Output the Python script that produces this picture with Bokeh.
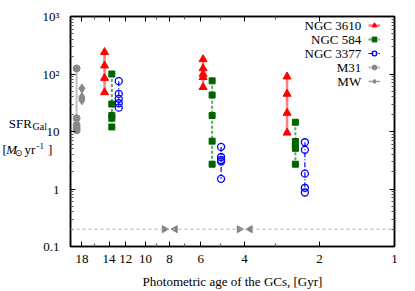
import math
from bokeh.plotting import figure
from bokeh.layouts import column
from bokeh.models import (Range1d, FixedTicker, LogAxis, Label, Legend, LegendItem,
                          Span, CustomJSTickFormatter)
from bokeh.core.properties import value
from bokeh.embed import file_html
from bokeh.resources import INLINE

# ---------------- data ----------------
m31_age = 18.9
m31_sfr = [125, 17, 13, 11.5, 10.5]
mw_age = 18.0
mw_sfr = [56, 40, 37, 35]

ngc3610_age = [14.6, 5.87, 2.70]
ngc3610_sfr = [[240, 140, 85, 48], [180, 125, 100, 88, 59], [90, 45, 21, 9.5]]
ngc584_age = [13.65, 5.4, 2.50]
ngc584_sfr = [[100, 30, 19, 17, 12], [76, 43, 19, 6.8, 2.7], [14.5, 6.7, 5.7, 5.1, 2.7]]
ngc3377_age = [12.8, 4.97, 2.29]
ngc3377_sfr = [[75, 45, 37, 31, 26], [5.4, 3.6, 3.2, 3.0, 1.5], [6.5, 4.8, 1.85, 1.05, 0.87]]

ref_sfr = 0.2
gap_start = [8.4, 4.2]
gap_end = [7.6, 3.8]

x_ticks = [18, 14, 12, 10, 8, 6, 4, 2, 1]
x_minor = [16, 9, 7, 5, 3]
y_ticks = [0.1, 1, 10, 100, 1000]
y_tick_labels = ["0.1", "1", "10", "10²", "10³"]
y_minor = [k * 10.0 ** d for d in range(-1, 3) for k in range(2, 10)]

legend_names = ["NGC 3610", "NGC 584", "NGC 3377", "M31", "MW"]
x_title = "Photometric age of the GCs, [Gyr]"

FONT = "Liberation Serif"
W, H = 415, 291

p = figure(width=W, height=H, x_axis_type="log", y_axis_type="log",
           x_range=Range1d(20, 1), y_range=Range1d(0.1, 1000),
           output_backend="svg", toolbar_location=None,
           min_border_left=70, min_border_right=21, min_border_top=16, min_border_bottom=44)
p.grid.visible = False
p.outline_line_color = "black"
p.outline_line_width = 1.5
p.border_fill_alpha = 0

bottom = p.below[0]
left = p.left[0]
bottom.ticker = FixedTicker(ticks=x_ticks, minor_ticks=x_minor)
left.ticker = FixedTicker(ticks=y_ticks, minor_ticks=y_minor)
left.major_label_overrides = {t: l for t, l in zip(y_ticks, y_tick_labels)}
bottom.major_label_overrides = {t: str(t) for t in x_ticks}

top = LogAxis(ticker=FixedTicker(ticks=x_ticks, minor_ticks=x_minor),
              formatter=CustomJSTickFormatter(code="return ''"))
right = LogAxis(ticker=FixedTicker(ticks=y_ticks, minor_ticks=y_minor),
                formatter=CustomJSTickFormatter(code="return ''"))
for ax in (top, right):
    ax.major_label_text_font_size = "0px"
    ax.major_label_standoff = 0
p.add_layout(top, "above")
p.add_layout(right, "right")

for ax in (bottom, left, top, right):
    ax.axis_line_color = "black"
    ax.axis_line_width = 1.5
    ax.major_tick_in = 5
    ax.major_tick_out = 0
    ax.minor_tick_in = 3
    ax.minor_tick_out = 0
    ax.major_tick_line_color = "black"
    ax.minor_tick_line_color = "#555555"
    ax.major_label_text_font = FONT
    ax.major_label_text_color = "black"

bottom.major_label_text_font_size = "13px"
bottom.major_label_standoff = 8
bottom.axis_label = x_title
bottom.axis_label_text_font = FONT
bottom.axis_label_text_font_size = "13px"
bottom.axis_label_text_font_style = "normal"
bottom.axis_label_text_color = "black"
bottom.axis_label_standoff = 8
left.major_label_text_font_size = "13px"
left.major_label_standoff = 11

# reference line and gap markers
p.add_layout(Span(location=ref_sfr, dimension="width", line_color="#b0b0b0",
                  line_dash="3 3", line_width=1))
p.scatter(gap_start, [ref_sfr] * len(gap_start), marker="triangle", angle=-math.pi / 2,
          size=7, color="#808080")
p.scatter(gap_end, [ref_sfr] * len(gap_end), marker="triangle", angle=math.pi / 2,
          size=7, color="#808080")


def group(ages, sfrs, color, marker, size, line_kw, fill=True):
    first = None
    for a, s in zip(ages, sfrs):
        xs = [a] * len(s)
        lr = p.line(xs, s, **line_kw)
        if fill:
            sr = p.scatter(xs, s, marker=marker, size=size, color=color)
        else:
            sr = p.scatter(xs, s, marker=marker, size=size, line_color=color,
                           fill_color=None, line_width=1.3)
        if first is None:
            first = [lr, sr]
    return first


r1 = group(ngc3610_age, ngc3610_sfr, "#ff0000", "triangle", 8,
           dict(line_color="#ff0000", line_alpha=0.5, line_width=2.5))
r2 = group(ngc584_age, ngc584_sfr, "#006400", "square", 6,
           dict(line_color="#006400", line_alpha=0.6, line_width=2, line_dash="3 2"))
r3 = group(ngc3377_age, ngc3377_sfr, "#0000ff", "circle", 7,
           dict(line_color="#0000ff", line_width=1.2, line_dash="5 2 1 2"), fill=False)
r4 = group([m31_age], [m31_sfr], "#888888", "circle", 7,
           dict(line_color="#c0c0c0", line_width=2))
r5 = group([mw_age], [mw_sfr], "#888888", "diamond", 9,
           dict(line_color="#999999", line_width=1.5))

legend = Legend(items=[LegendItem(label=" ", renderers=r) for r in (r1, r2, r3, r4, r5)],
                location=(298, 158), glyph_width=12, glyph_height=14, label_height=14,
                label_width=0, label_standoff=0, padding=0, spacing=0, margin=0,
                border_line_color=None, background_fill_alpha=0,
                label_text_font_size="1px")
p.add_layout(legend)

row_y = [221.5, 207.5, 193.5, 179.5, 165.5]
for name, yy in zip(legend_names, row_y):
    p.add_layout(Label(x=290.7, y=yy, x_units="screen", y_units="screen", text=name,
                       text_align="right", text_baseline="middle",
                       text_font=FONT, text_font_size="13px", text_color="black"))

# ---- overlay figure carrying the horizontal y-axis title (outside the frame) ----
q = figure(width=W, height=H, x_range=Range1d(0, W), y_range=Range1d(H, 0), title=None,
           x_axis_type=None, y_axis_type=None, output_backend="svg", toolbar_location=None,
           min_border=0, min_border_left=0, min_border_right=0, min_border_top=0,
           min_border_bottom=0)
if "frame_align" in q.properties():
    q.frame_align = False
    p.frame_align = False
q.grid.visible = False
q.outline_line_color = None
q.background_fill_alpha = 0
q.border_fill_alpha = 0
q.styles = {"position": "absolute", "left": "0px", "top": "0px"}


def piece(text, x, y, size="13px", style="normal"):
    q.text(x=[x], y=[y], text=[text], text_font=value(FONT), text_font_size=size,
           text_font_style=style, text_align="left", text_baseline="alphabetic",
           text_color="black")


piece("SFR", 8.3, 122.7)
piece("Gal", 32.0, 126.0, size="10px")
piece("[", 2.0, 149.0)
piece("M", 5.8, 149.0, style="italic")
piece("⊙", 14.0, 152.5, size="9px")
piece("yr", 24.0, 149.0)
piece("-1", 36.0, 145.0, size="9px")
piece("]", 47.5, 149.0)

layout = column(p, q)
open("out.html", "w").write(file_html(layout, INLINE))
